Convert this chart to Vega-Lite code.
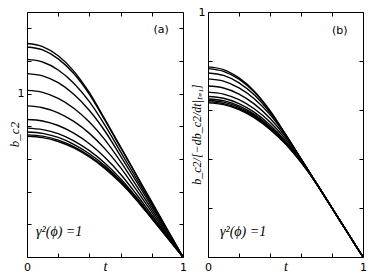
{
"$schema": "https://vega.github.io/schema/vega-lite/v6.json",
"background": "white",
"padding": {"left": 8, "top": 6, "right": 5, "bottom": 5},
"spacing": 3,
"datasets": {"d": [
{"c":1,"t":0,"a":1.307,"b":0.776},{"c":1,"t":0.1,"a":1.288,"b":0.765},{"c":1,"t":0.2,"a":1.232,"b":0.731},{"c":1,"t":0.3,"a":1.138,"b":0.676},{"c":1,"t":0.4,"a":1.006,"b":0.597},{"c":1,"t":0.5,"a":0.842,"b":0.5},{"c":1,"t":0.6,"a":0.674,"b":0.4},{"c":1,"t":0.7,"a":0.505,"b":0.3},{"c":1,"t":0.8,"a":0.337,"b":0.2},{"c":1,"t":0.9,"a":0.168,"b":0.1},{"c":1,"t":1,"a":0,"b":0},
{"c":2,"t":0,"a":1.286,"b":0.769},{"c":2,"t":0.1,"a":1.268,"b":0.758},{"c":2,"t":0.2,"a":1.213,"b":0.726},{"c":2,"t":0.3,"a":1.123,"b":0.672},{"c":2,"t":0.4,"a":0.996,"b":0.596},{"c":2,"t":0.5,"a":0.836,"b":0.5},{"c":2,"t":0.6,"a":0.669,"b":0.4},{"c":2,"t":0.7,"a":0.502,"b":0.3},{"c":2,"t":0.8,"a":0.334,"b":0.2},{"c":2,"t":0.9,"a":0.167,"b":0.1},{"c":2,"t":1,"a":0,"b":0},
{"c":3,"t":0,"a":1.21,"b":0.751},{"c":3,"t":0.1,"a":1.194,"b":0.741},{"c":3,"t":0.2,"a":1.145,"b":0.711},{"c":3,"t":0.3,"a":1.064,"b":0.661},{"c":3,"t":0.4,"a":0.951,"b":0.59},{"c":3,"t":0.5,"a":0.806,"b":0.5},{"c":3,"t":0.6,"a":0.644,"b":0.4},{"c":3,"t":0.7,"a":0.483,"b":0.3},{"c":3,"t":0.8,"a":0.322,"b":0.2},{"c":3,"t":0.9,"a":0.161,"b":0.1},{"c":3,"t":1,"a":0,"b":0},
{"c":4,"t":0,"a":1.123,"b":0.727},{"c":4,"t":0.1,"a":1.109,"b":0.718},{"c":4,"t":0.2,"a":1.067,"b":0.69},{"c":4,"t":0.3,"a":0.996,"b":0.645},{"c":4,"t":0.4,"a":0.897,"b":0.581},{"c":4,"t":0.5,"a":0.77,"b":0.498},{"c":4,"t":0.6,"a":0.618,"b":0.4},{"c":4,"t":0.7,"a":0.464,"b":0.3},{"c":4,"t":0.8,"a":0.309,"b":0.2},{"c":4,"t":0.9,"a":0.155,"b":0.1},{"c":4,"t":1,"a":0,"b":0},
{"c":5,"t":0,"a":1.02,"b":0.698},{"c":5,"t":0.1,"a":1.008,"b":0.69},{"c":5,"t":0.2,"a":0.971,"b":0.665},{"c":5,"t":0.3,"a":0.911,"b":0.624},{"c":5,"t":0.4,"a":0.826,"b":0.566},{"c":5,"t":0.5,"a":0.717,"b":0.491},{"c":5,"t":0.6,"a":0.584,"b":0.4},{"c":5,"t":0.7,"a":0.438,"b":0.3},{"c":5,"t":0.8,"a":0.292,"b":0.2},{"c":5,"t":0.9,"a":0.146,"b":0.1},{"c":5,"t":1,"a":0,"b":0},
{"c":6,"t":0,"a":0.925,"b":0.673},{"c":6,"t":0.1,"a":0.914,"b":0.665},{"c":6,"t":0.2,"a":0.883,"b":0.642},{"c":6,"t":0.3,"a":0.83,"b":0.604},{"c":6,"t":0.4,"a":0.757,"b":0.551},{"c":6,"t":0.5,"a":0.662,"b":0.482},{"c":6,"t":0.6,"a":0.547,"b":0.398},{"c":6,"t":0.7,"a":0.412,"b":0.3},{"c":6,"t":0.8,"a":0.275,"b":0.2},{"c":6,"t":0.9,"a":0.137,"b":0.1},{"c":6,"t":1,"a":0,"b":0},
{"c":7,"t":0,"a":0.842,"b":0.655},{"c":7,"t":0.1,"a":0.833,"b":0.648},{"c":7,"t":0.2,"a":0.805,"b":0.626},{"c":7,"t":0.3,"a":0.758,"b":0.59},{"c":7,"t":0.4,"a":0.693,"b":0.539},{"c":7,"t":0.5,"a":0.609,"b":0.474},{"c":7,"t":0.6,"a":0.507,"b":0.394},{"c":7,"t":0.7,"a":0.386,"b":0.3},{"c":7,"t":0.8,"a":0.257,"b":0.2},{"c":7,"t":0.9,"a":0.129,"b":0.1},{"c":7,"t":1,"a":0,"b":0},
{"c":8,"t":0,"a":0.789,"b":0.645},{"c":8,"t":0.1,"a":0.78,"b":0.638},{"c":8,"t":0.2,"a":0.755,"b":0.617},{"c":8,"t":0.3,"a":0.711,"b":0.582},{"c":8,"t":0.4,"a":0.651,"b":0.532},{"c":8,"t":0.5,"a":0.574,"b":0.469},{"c":8,"t":0.6,"a":0.479,"b":0.392},{"c":8,"t":0.7,"a":0.367,"b":0.3},{"c":8,"t":0.8,"a":0.245,"b":0.2},{"c":8,"t":0.9,"a":0.122,"b":0.1},{"c":8,"t":1,"a":0,"b":0},
{"c":9,"t":0,"a":0.765,"b":0.639},{"c":9,"t":0.1,"a":0.757,"b":0.632},{"c":9,"t":0.2,"a":0.732,"b":0.611},{"c":9,"t":0.3,"a":0.69,"b":0.577},{"c":9,"t":0.4,"a":0.632,"b":0.528},{"c":9,"t":0.5,"a":0.558,"b":0.466},{"c":9,"t":0.6,"a":0.467,"b":0.39},{"c":9,"t":0.7,"a":0.359,"b":0.3},{"c":9,"t":0.8,"a":0.239,"b":0.2},{"c":9,"t":0.9,"a":0.12,"b":0.1},{"c":9,"t":1,"a":0,"b":0},
{"c":10,"t":0,"a":0.748,"b":0.633},{"c":10,"t":0.1,"a":0.74,"b":0.626},{"c":10,"t":0.2,"a":0.716,"b":0.606},{"c":10,"t":0.3,"a":0.676,"b":0.572},{"c":10,"t":0.4,"a":0.619,"b":0.524},{"c":10,"t":0.5,"a":0.547,"b":0.463},{"c":10,"t":0.6,"a":0.458,"b":0.388},{"c":10,"t":0.7,"a":0.354,"b":0.299},{"c":10,"t":0.8,"a":0.236,"b":0.2},{"c":10,"t":0.9,"a":0.118,"b":0.1},{"c":10,"t":1,"a":0,"b":0},
{"c":11,"t":0,"a":0.739,"b":0.629},{"c":11,"t":0.1,"a":0.731,"b":0.622},{"c":11,"t":0.2,"a":0.707,"b":0.602},{"c":11,"t":0.3,"a":0.668,"b":0.568},{"c":11,"t":0.4,"a":0.612,"b":0.521},{"c":11,"t":0.5,"a":0.541,"b":0.461},{"c":11,"t":0.6,"a":0.454,"b":0.386},{"c":11,"t":0.7,"a":0.351,"b":0.299},{"c":11,"t":0.8,"a":0.235,"b":0.2},{"c":11,"t":0.9,"a":0.117,"b":0.1},{"c":11,"t":1,"a":0,"b":0}
]},
"config": {
  "view": {"stroke": null},
  "axis": {"grid": false, "domainColor": "black", "tickColor": "black", "labelColor": "black", "titleColor": "black", "labelFont": "DejaVu Sans", "labelFontSize": 11, "tickSize": -4, "domainWidth": 1, "tickWidth": 1, "labelFlush": false, "labelOverlap": false}
},
"hconcat": [
{
  "width": 156, "height": 245,
  "resolve": {"axis": {"x": "independent", "y": "independent"}},
  "layer": [
    {"data": {"name": "d"},
     "mark": {"type": "line", "color": "black", "strokeWidth": 1.4, "interpolate": "monotone"},
     "encoding": {
       "x": {"field": "t", "type": "quantitative", "scale": {"domain": [0, 1], "nice": false},
             "axis": {"orient": "bottom", "values": [0, 0.2, 0.4, 0.6, 0.8, 1], "labelExpr": "datum.value == 0 ? '0' : (datum.value == 1 ? '1' : '')", "labelPadding": 8, "title": "t", "titleFont": "Liberation Serif", "titleFontStyle": "italic", "titleFontWeight": "normal", "titleFontSize": 14, "titleY": 13, "titleBaseline": "alphabetic"}},
       "y": {"field": "a", "type": "quantitative", "scale": {"domain": [0, 1.5], "nice": false},
             "axis": {"orient": "left", "values": [0, 0.2, 0.4, 0.6, 0.8, 1, 1.2, 1.4], "labelExpr": "datum.value == 1 ? '1' : ''", "labelPadding": 7, "title": "b_c2", "titleFont": "Liberation Serif", "titleFontStyle": "italic", "titleFontWeight": "normal", "titleFontSize": 13, "titleX": -9, "titleY": 122, "titleAngle": -90, "titleBaseline": "alphabetic", "titleAlign": "center"}},
       "detail": {"field": "c"}
     }},
    {"data": {"name": "d"},
     "mark": {"type": "line", "opacity": 0},
     "encoding": {
       "x": {"field": "t", "type": "quantitative", "axis": {"orient": "top", "values": [0, 0.2, 0.4, 0.6, 0.8, 1], "labels": false, "title": null}},
       "y": {"field": "a", "type": "quantitative", "axis": {"orient": "right", "values": [0, 0.2, 0.4, 0.6, 0.8, 1, 1.2, 1.4], "labels": false, "title": null}},
       "detail": {"field": "c"}
     }},
    {"data": {"values": [{"label": "(a)"}]},
     "mark": {"type": "text", "font": "DejaVu Sans", "fontSize": 11, "align": "center", "baseline": "middle", "color": "black"},
     "encoding": {"text": {"field": "label"}, "x": {"datum": 0.86, "type": "quantitative", "axis": null}, "y": {"datum": 1.387, "type": "quantitative", "axis": null}}},
    {"data": {"values": [{"label": "γ²(ϕ) =1"}]},
     "mark": {"type": "text", "font": "Liberation Serif", "fontStyle": "italic", "fontSize": 14, "align": "left", "baseline": "middle", "color": "black"},
     "encoding": {"text": {"field": "label"}, "x": {"datum": 0.058, "type": "quantitative", "axis": null}, "y": {"datum": 0.153, "type": "quantitative", "axis": null}}}
  ]
},
{
  "width": 155, "height": 245,
  "resolve": {"axis": {"x": "independent", "y": "independent"}},
  "layer": [
    {"data": {"name": "d"},
     "mark": {"type": "line", "color": "black", "strokeWidth": 1.4, "interpolate": "monotone"},
     "encoding": {
       "x": {"field": "t", "type": "quantitative", "scale": {"domain": [0, 1], "nice": false},
             "axis": {"orient": "bottom", "values": [0, 0.2, 0.4, 0.6, 0.8, 1], "labelExpr": "datum.value == 0 ? '0' : (datum.value == 1 ? '1' : '')", "labelPadding": 8, "title": "t", "titleFont": "Liberation Serif", "titleFontStyle": "italic", "titleFontWeight": "normal", "titleFontSize": 14, "titleY": 13, "titleBaseline": "alphabetic"}},
       "y": {"field": "b", "type": "quantitative", "scale": {"domain": [0, 1], "nice": false},
             "axis": {"orient": "left", "values": [0, 0.2, 0.4, 0.6, 0.8, 1], "labelExpr": "datum.value == 1 ? '1' : ''", "labelPadding": 7, "title": "b_c2/[−db_c2/dt|ₜ₌₁]", "titleFont": "Liberation Serif", "titleFontStyle": "italic", "titleFontWeight": "normal", "titleFontSize": 12, "titleX": -8, "titleY": 122, "titleAngle": -90, "titleBaseline": "alphabetic", "titleAlign": "center"}},
       "detail": {"field": "c"}
     }},
    {"data": {"name": "d"},
     "mark": {"type": "line", "opacity": 0},
     "encoding": {
       "x": {"field": "t", "type": "quantitative", "axis": {"orient": "top", "values": [0, 0.2, 0.4, 0.6, 0.8, 1], "labels": false, "title": null}},
       "y": {"field": "b", "type": "quantitative", "axis": {"orient": "right", "values": [0, 0.2, 0.4, 0.6, 0.8, 1], "labels": false, "title": null}},
       "detail": {"field": "c"}
     }},
    {"data": {"values": [{"label": "(b)"}]},
     "mark": {"type": "text", "font": "DejaVu Sans", "fontSize": 11, "align": "center", "baseline": "middle", "color": "black"},
     "encoding": {"text": {"field": "label"}, "x": {"datum": 0.85, "type": "quantitative", "axis": null}, "y": {"datum": 0.922, "type": "quantitative", "axis": null}}},
    {"data": {"values": [{"label": "γ²(ϕ) =1"}]},
     "mark": {"type": "text", "font": "Liberation Serif", "fontStyle": "italic", "fontSize": 14, "align": "left", "baseline": "middle", "color": "black"},
     "encoding": {"text": {"field": "label"}, "x": {"datum": 0.077, "type": "quantitative", "axis": null}, "y": {"datum": 0.102, "type": "quantitative", "axis": null}}}
  ]
}
]
}
